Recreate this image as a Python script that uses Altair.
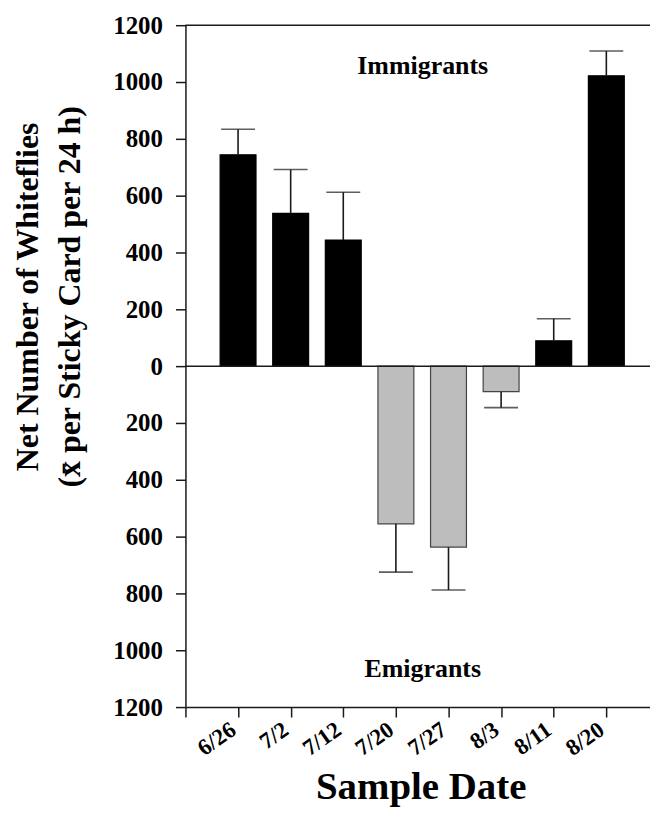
import altair as alt
import pandas as pd
import numpy as np

# ---- data ----
dates = ["6/26", "7/2", "7/12", "7/20", "7/27", "8/3", "8/11", "8/20"]
net = [744, 538, 444, -555, -637, -90, 89, 1022]          # mean net whiteflies
se = [90, 154, 168, 170, 151, 56, 78, 87]                  # error bar length
y_tick_values = [-1200, -1000, -800, -600, -400, -200, 0, 200, 400, 600, 800, 1000, 1200]
x_tick_values = [0, 1, 2, 3, 4, 5, 6, 7, 8]
note_text = ["Immigrants", "Emigrants"]
note_x = [4.51, 4.51]
note_y = [1028, -1095]
ref_lines = [0, 1200]

df = pd.DataFrame({"pos": list(range(1, len(dates) + 1)), "date": dates, "net": net, "se": se})
df["err_end"] = df["net"] + np.sign(df["net"]) * df["se"]
df["kind"] = np.where(df["net"] > 0, "Immigrants", "Emigrants")
notes = pd.DataFrame({"pos": note_x, "net": note_y, "text": note_text})
lines = pd.DataFrame({"net": ref_lines})

FONT = "Liberation Serif"
INK = "#1a1a1a"
xscale = alt.Scale(domain=[0, 8.83], nice=False, zero=False, padding=0)
yscale = alt.Scale(domain=[-1200, 1200], nice=False, padding=0)
label_expr = "[" + ",".join("'" + s + "'" for s in [""] + dates) + "][datum.value]"

x_axis = alt.Axis(
    values=x_tick_values, labelExpr=label_expr, title="Sample Date",
    labelAngle=-35, labelAlign="right", labelBaseline="middle", labelPadding=10,
    labelOffset=-5, labelFontSize=23, tickSize=10, titleFontSize=39,
    titleBaseline="alphabetic", titleY=92, titleX=236,
)
y_axis = alt.Axis(
    values=y_tick_values, labelExpr="abs(datum.value)",
    title=["Net Number of Whiteflies", "(x\u0304 per Sticky Card per 24 h)"],
    labelFontSize=25, labelPadding=13, tickSize=10,
    titleFontSize=32, titleLineHeight=42, titleX=-148, titleY=272,
    titleAlign="center", titleBaseline="alphabetic",
)

X = alt.X("pos:Q", scale=xscale, axis=x_axis)
Y = alt.Y("net:Q", scale=yscale, axis=y_axis)

bars = alt.Chart(df).mark_bar(size=36, strokeWidth=1.2).encode(
    x=X, y=Y,
    color=alt.Color("kind:N", scale=alt.Scale(domain=["Immigrants", "Emigrants"], range=["#000000", "#bdbdbd"]), legend=None),
    stroke=alt.Stroke("kind:N", scale=alt.Scale(domain=["Immigrants", "Emigrants"], range=["#000000", "#444444"]), legend=None),
)

err = alt.Chart(df).mark_rule(color=INK, strokeWidth=1.6).encode(
    x=X, y=Y, y2="err_end:Q",
)

caps = alt.Chart(df).mark_tick(orient="horizontal", size=34, thickness=1.6, color=INK).encode(
    x=X, y=alt.Y("err_end:Q", scale=yscale, axis=y_axis),
)

rules = alt.Chart(lines).mark_rule(color=INK, strokeWidth=1.5).encode(
    y=Y,
)

text = alt.Chart(notes).mark_text(
    font=FONT, fontSize=26, fontWeight="bold", align="center", baseline="alphabetic", color="#000"
).encode(
    x=X, y=Y, text="text:N",
)

chart = alt.layer(bars, err, caps, rules, text).properties(
    width=466, height=684,
    autosize=alt.AutoSizeParams(type="none"),
    padding={"left": 178, "top": 16, "right": 0, "bottom": 102},
).configure_view(stroke=None).configure_axis(
    grid=False, domainColor=INK, domainWidth=1.5, tickColor=INK, tickWidth=1.5,
    labelFont=FONT, labelFontWeight="bold", labelColor="#000",
    titleFont=FONT, titleFontWeight="bold", titleColor="#000",
)

chart.save("out.html", embed_options={"renderer": "svg", "actions": False})
